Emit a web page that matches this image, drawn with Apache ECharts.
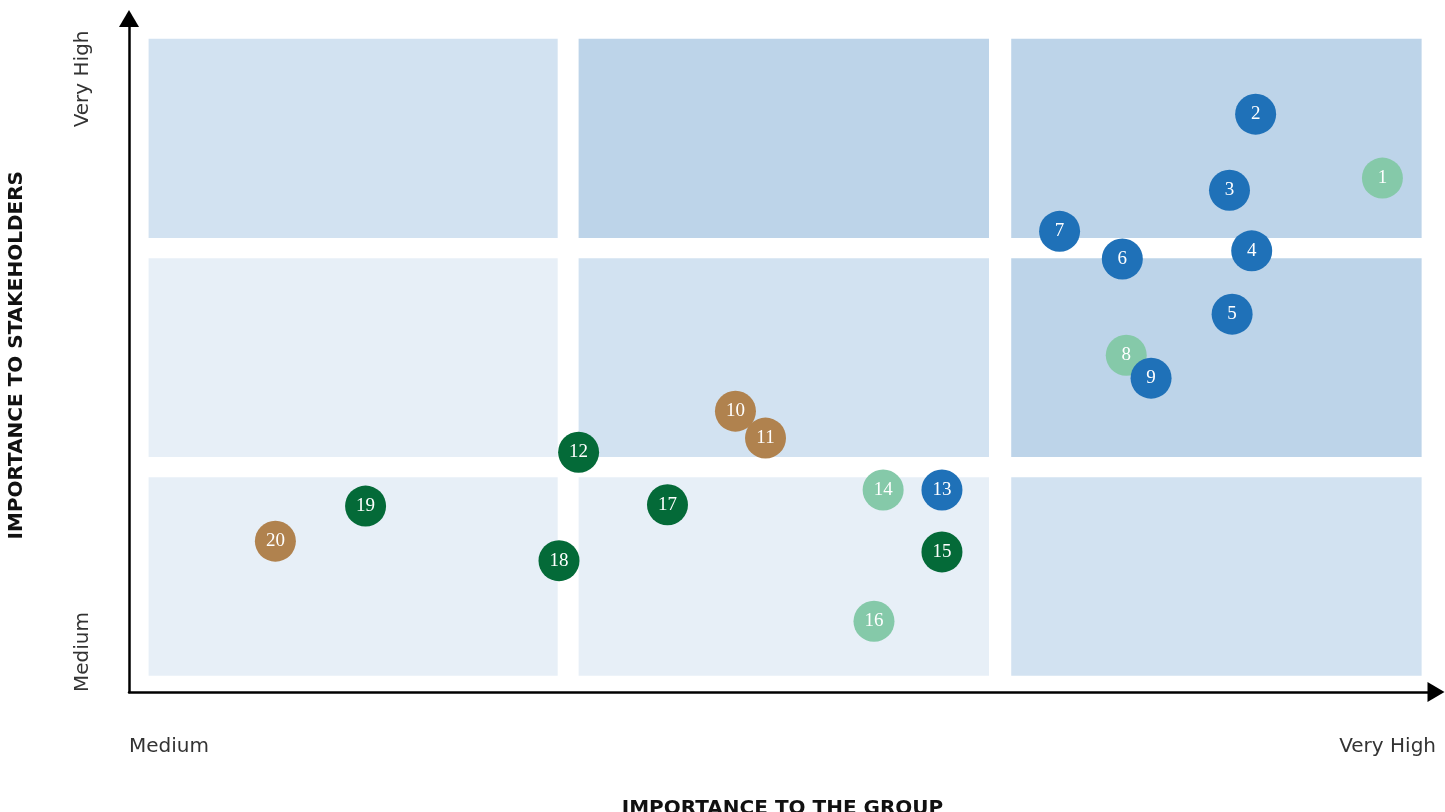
<!DOCTYPE html>
<html>
<head>
<meta charset="utf-8">
<script src="https://cdn.jsdelivr.net/npm/echarts@6/dist/echarts.min.js"></script>
<style>
  html, body { margin: 0; padding: 0; background: #fff; }
  #chart { width: 1445px; height: 812px; }
</style>
</head>
<body>
<div id="chart"></div>
<script>
// topic numbers and their position on the materiality matrix (0-100 scale)
var topics = [1, 2, 3, 4, 5, 6, 7, 8, 9, 10, 11, 12, 13, 14, 15, 16, 17, 18, 19, 20];
var groupImportance = [95.9, 86.2, 84.2, 85.9, 84.4, 76.0, 71.2, 76.3, 78.2, 46.4, 48.7, 34.4, 62.2, 57.7, 62.2, 57.0, 41.2, 32.9, 18.1, 11.2];
var stakeholderImportance = [76.3, 85.8, 74.5, 65.5, 56.1, 64.3, 68.4, 50.0, 46.6, 41.7, 37.7, 35.6, 30.0, 30.0, 20.8, 10.5, 27.8, 19.5, 27.6, 22.4];
var topicGroup = ['light', 'blue', 'blue', 'blue', 'blue', 'blue', 'blue', 'light', 'blue', 'brown',
                  'brown', 'dark', 'blue', 'light', 'dark', 'light', 'dark', 'dark', 'dark', 'brown'];
var levelLabels = ['Medium', 'Very High'];

var groupColors = {
  blue: '#1f71b8',
  light: '#85c9a9',
  dark: '#046a38',
  brown: '#b0824e'
};

// background cells of the 3x3 matrix
var colEdges = [[1.5, 32.8], [34.4, 65.8], [67.5, 98.9]];
var rowEdges = [[2.4, 31.9], [34.9, 64.4], [67.4, 97.0]];
// shade per cell, rows bottom -> top
var cellShades = [
  ['#e7eff7', '#e7eff7', '#d2e2f1'],
  ['#e7eff7', '#d2e2f1', '#bdd4e9'],
  ['#d2e2f1', '#bdd4e9', '#bdd4e9']
];

var areas = [];
rowEdges.forEach(function (r, ri) {
  colEdges.forEach(function (c, ci) {
    areas.push([
      { xAxis: c[0], yAxis: r[0], itemStyle: { color: cellShades[ri][ci] } },
      { xAxis: c[1], yAxis: r[1] }
    ]);
  });
});

var points = topics.map(function (t, i) {
  return {
    value: [groupImportance[i], stakeholderImportance[i]],
    name: String(t),
    itemStyle: { color: groupColors[topicGroup[i]] }
  };
});

var tickFont = { fontFamily: 'DejaVu Sans', fontSize: 20, color: '#333' };
var nameFont = { fontFamily: 'DejaVu Sans', fontWeight: 'bold', fontSize: 20, color: '#111' };

var chart = echarts.init(document.getElementById('chart'));
chart.setOption({
  animation: false,
  grid: { left: 129, right: 9, top: 18.5, bottom: 120, containLabel: false, outerBoundsMode: 'none' },
  xAxis: {
    type: 'value',
    min: 0,
    max: 100,
    interval: 100,
    name: 'IMPORTANCE TO THE GROUP',
    nameLocation: 'middle',
    nameGap: 107,
    nameTextStyle: nameFont,
    axisLine: { lineStyle: { color: '#000', width: 2.5 }, symbol: ['none', 'triangle'], symbolSize: [20, 17] },
    axisTick: { show: false },
    splitLine: { show: false },
    axisLabel: Object.assign({
      margin: 45,
      showMinLabel: true,
      showMaxLabel: true,
      alignMinLabel: 'left',
      alignMaxLabel: 'right',
      formatter: function (v) { return v === 0 ? levelLabels[0] : levelLabels[1]; }
    }, tickFont)
  },
  yAxis: {
    type: 'value',
    min: 0,
    max: 100,
    interval: 100,
    name: 'IMPORTANCE TO STAKEHOLDERS',
    nameLocation: 'middle',
    nameGap: 102,
    nameTextStyle: nameFont,
    axisLine: { lineStyle: { color: '#000', width: 2.5 }, symbol: ['none', 'triangle'], symbolSize: [20, 17] },
    axisTick: { show: false },
    splitLine: { show: false },
    axisLabel: Object.assign({
      rotate: 90,
      margin: 36,
      showMinLabel: true,
      showMaxLabel: true,
      alignMinLabel: 'left',
      alignMaxLabel: 'right',
      padding: [0, 12, 0, 0],
      formatter: function (v) { return v === 0 ? levelLabels[0] : levelLabels[1]; }
    }, tickFont)
  },
  series: [
    {
      type: 'scatter',
      data: [],
      silent: true,
      z: 1,
      markArea: { silent: true, data: areas }
    },
    {
      type: 'scatter',
      z: 3,
      symbolSize: 41,
      itemStyle: { opacity: 1 },
      data: points,
      label: {
        show: true,
        position: 'inside',
        formatter: '{b}',
        color: '#fff',
        fontFamily: 'Liberation Serif',
        fontSize: 19
      }
    }
  ]
});
</script>
</body>
</html>
